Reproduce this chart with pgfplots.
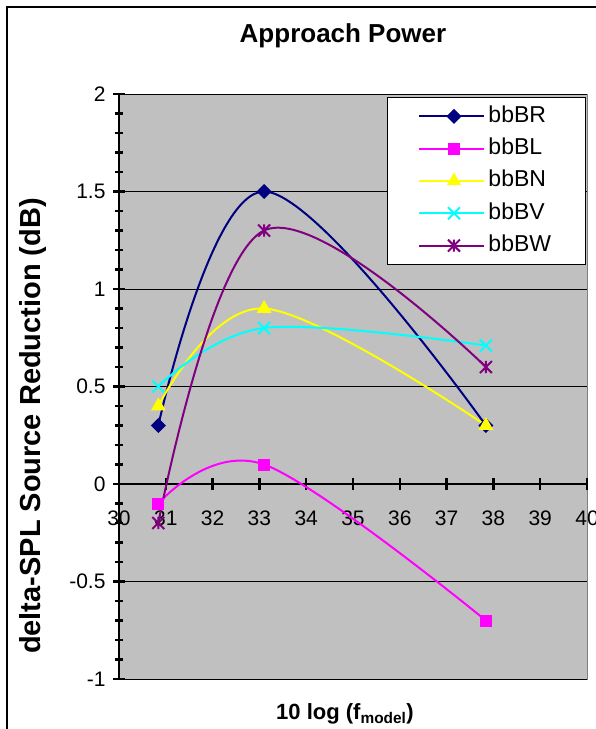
\documentclass[border=0pt]{standalone}
\usepackage{pgfplots}
\pgfplotsset{compat=1.18}
\usepackage{fontspec}
\setmainfont{Liberation Sans}
\definecolor{plotgray}{HTML}{C0C0C0}
\definecolor{brcol}{HTML}{000080}
\definecolor{blcol}{HTML}{FF00FF}
\definecolor{bncol}{HTML}{FFFF00}
\definecolor{bvcol}{HTML}{00FFFF}
\definecolor{bwcol}{HTML}{800080}
\pgfdeclareplotmark{xstar}{%
  \pgfpathmoveto{\pgfqpoint{-.70710678\pgfplotmarksize}{-.70710678\pgfplotmarksize}}%
  \pgfpathlineto{\pgfqpoint{.70710678\pgfplotmarksize}{.70710678\pgfplotmarksize}}%
  \pgfpathmoveto{\pgfqpoint{-.70710678\pgfplotmarksize}{.70710678\pgfplotmarksize}}%
  \pgfpathlineto{\pgfqpoint{.70710678\pgfplotmarksize}{-.70710678\pgfplotmarksize}}%
  \pgfpathmoveto{\pgfqpoint{0pt}{-.70710678\pgfplotmarksize}}%
  \pgfpathlineto{\pgfqpoint{0pt}{.70710678\pgfplotmarksize}}%
  \pgfusepathqstroke}
\begin{document}
\begin{tikzpicture}
\useasboundingbox (0pt,0pt) rectangle (596pt,-729pt);
\clip (0pt,0pt) rectangle (596pt,-729pt);
\fill[white] (0pt,0pt) rectangle (596pt,-729pt);
\draw[line width=1.2pt] (7pt,-7pt) rectangle (640pt,-760pt);
\begin{axis}[
  at={(119pt,-679pt)}, anchor=south west,
  scale only axis, width=468pt, height=585pt,
  xmin=30, xmax=40, ymin=-1, ymax=2,
  axis x line*=middle, axis y line*=left,
  hide obscured x ticks=false, hide obscured y ticks=false,
  axis background/.style={fill=plotgray, draw=gray, line width=1pt},
  axis line style={line width=2.5pt, black, -},
  xtick={30,31,32,33,34,35,36,37,38,39,40},
  xticklabels={30,31,32,33,34,35,36,37,38,39,40},
  ytick={-1,-0.5,0,0.5,1,1.5,2},
  yticklabels={-1,-0.5,0,0.5,1,1.5,2},
  minor y tick num=4,
  tick align=center, major tick length=12pt, minor tick length=8pt,
  tick style={line width=2.5pt, black},
  ymajorgrids, major grid style={black, line width=0.8pt},
  tick label style={font=\fontsize{21}{25}\selectfont},
  xticklabel style={anchor=north, yshift=-17pt},
  yticklabel style={anchor=east, xshift=-4pt},
  legend image code/.code={%
    \path (0pt,0pt) -- (65pt,0pt);
    \draw[mark repeat=2,mark phase=2] plot coordinates {(7pt,0pt) (34.5pt,0pt) (62pt,0pt)};},
  legend cell align=left,
  legend style={at={(0.5726,0.9949)}, anchor=north west, draw=black, line width=1pt,
    fill=white, inner xsep=31pt, inner ysep=5.9pt, row sep=6.3pt,
    nodes={inner xsep=3pt, inner ysep=2pt, text height=17pt, text depth=5pt,
      font=\fontsize{23}{27}\selectfont}},
]
\addplot[brcol, line width=2pt, smooth, tension=0.6, mark=square*, mark size=4.8pt,
  mark options={rotate=45, solid, fill=brcol, line width=1pt}]
  coordinates {(30.84,0.3) (33.1,1.5) (37.84,0.3)};
\addlegendentry{bbBR}
\addplot[blcol, line width=2pt, smooth, tension=0.6, mark=square*, mark size=5.5pt,
  mark options={solid, fill=blcol, line width=1pt}]
  coordinates {(30.84,-0.1) (33.1,0.1) (37.84,-0.7)};
\addlegendentry{bbBL}
\addplot[bncol, line width=2pt, smooth, tension=0.6, mark=triangle*, mark size=7.5pt,
  mark options={solid, fill=bncol, line width=1pt}]
  coordinates {(30.84,0.4) (33.1,0.9) (37.84,0.3)};
\addlegendentry{bbBN}
\addplot[bvcol, line width=2pt, smooth, tension=0.6, mark=x, mark size=8.5pt,
  mark options={solid, line width=2pt}]
  coordinates {(30.84,0.5) (33.1,0.8) (37.84,0.71)};
\addlegendentry{bbBV}
\addplot[bwcol, line width=2pt, smooth, tension=0.6, mark=xstar, mark size=8.5pt,
  mark options={solid, line width=2pt}]
  coordinates {(30.84,-0.2) (33.1,1.3) (37.84,0.6)};
\addlegendentry{bbBW}
\end{axis}
\node[anchor=base, font=\bfseries\fontsize{26}{30}\selectfont] at (343pt,-42pt) {Approach Power};
\node[anchor=base, rotate=90, font=\bfseries\fontsize{29}{34}\selectfont] at (40pt,-426pt) {delta-SPL Source Reduction (dB)};
\node[anchor=base, font=\bfseries\fontsize{22}{26}\selectfont] at (345pt,-719pt) {10 log (f\textsubscript{model})};
\end{tikzpicture}
\end{document}
